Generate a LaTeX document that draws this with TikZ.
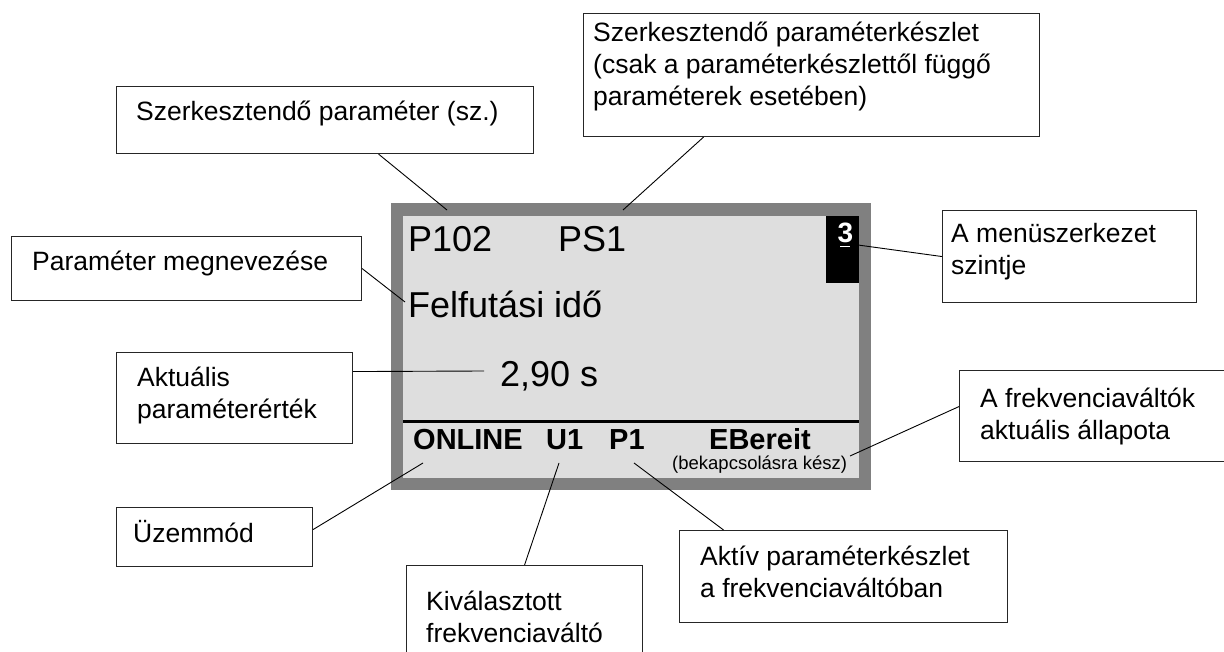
\documentclass[tikz,border=0pt]{standalone}
\usepackage{fontspec}
\setmainfont{Liberation Sans}
\usetikzlibrary{calc}
\definecolor{bezel}{RGB}{128,128,128}
\definecolor{screen}{RGB}{222,222,222}

\begin{document}
\begin{tikzpicture}[
  x=1pt, y=-1pt,
  callout/.style={draw=black!85,line width=1.1pt,fill=white,inner sep=0pt,anchor=north west},
  note/.style={anchor=base west,inner sep=0pt,align=left,font=\fontsize{26.5}{32}\selectfont},
  lcd/.style={anchor=base west,inner sep=0pt,font=\fontsize{36}{40}\selectfont},
  status/.style={anchor=base west,inner sep=0pt,font=\fontsize{29}{32}\selectfont\bfseries},
  leader/.style={line width=0.9pt}
]
\useasboundingbox (0,0) rectangle (1224,652);

% kijelző
\fill[bezel] (391,203) rectangle (871,490);
\fill[screen] (403,216) rectangle (859,478);
\fill[black] (826,216) rectangle (859,283);
\draw[line width=3pt] (403,421) -- (859,421);

\node[lcd] (par) at (408,252) {P102};
\node[lcd] (pset) at (558,252) {PS1};
\node[lcd] (name) at (408,318) {Felfutási idő};
\node[lcd] (value) at (500,387) {2,90 s};
\node[anchor=base,inner sep=0pt,text=white,font=\fontsize{28}{30}\selectfont\bfseries]
  (level) at (845.5,243) {3};
\draw[white,line width=0.8pt] (840,246.5) -- (850,246.5);

\node[status] (mode) at (413,449) {ONLINE};
\node[status] (unit) at (546,449) {U1};
\node[status] (pact) at (609,449) {P1};
\node[status] (state) at (709,449) {EBereit};
\node[anchor=base west,inner sep=0pt,font=\fontsize{18.5}{20}\selectfont]
  (statetxt) at (672,469) {(bekapcsolásra kész)};

% végpontok a kijelzőn
\coordinate (pA) at (447,210);
\coordinate (pB) at (623,210);
\coordinate (pC) at (405,302);
\coordinate (pD) at (484,371);
\coordinate (pE) at (858,245);
\coordinate (pF) at (850,456);
\coordinate (pG) at (423,463);
\coordinate (pH) at (559,463);
\coordinate (pI) at (634,463);

% feliratok (a szöveg alapvonala az utolsó sorhoz igazodik)
\node[callout,minimum width=417pt,minimum height=67pt] (boxA) at (116,86) {};
\node[note] (txtA) at (136,121) {Szerkesztendő paraméter (sz.)};

\node[callout,minimum width=456pt,minimum height=123pt] (boxB) at (583,13) {};
\node[note] (txtB) at (593,106) {Szerkesztendő paraméterkészlet\\(csak a paraméterkészlettől függő\\paraméterek esetében)};

\node[callout,minimum width=350pt,minimum height=64pt] (boxC) at (11,236) {};
\node[note] (txtC) at (32,271) {Paraméter megnevezése};

\node[callout,minimum width=236pt,minimum height=91pt] (boxD) at (116,352) {};
\node[note] (txtD) at (137,418) {Aktuális\\paraméterérték};

\node[callout,minimum width=254pt,minimum height=92pt] (boxE) at (942,210) {};
\node[note] (txtE) at (951,275) {A menüszerkezet\\szintje};

\node[callout,minimum width=271pt,minimum height=91pt] (boxF) at (959,370) {};
\node[note] (txtF) at (980,439) {A frekvenciaváltók\\aktuális állapota};

\node[callout,minimum width=196pt,minimum height=59pt] (boxG) at (116,507) {};
\node[note] (txtG) at (133,542) {Üzemmód};

\node[callout,minimum width=236pt,minimum height=100pt] (boxH) at (406,565) {};
\node[note] (txtH) at (426,642) {Kiválasztott\\frekvenciaváltó};

\node[callout,minimum width=328pt,minimum height=92pt] (boxI) at (679,530) {};
\node[note] (txtI) at (700,597) {Aktív paraméterkészlet\\a frekvenciaváltóban};

% vezetővonalak
\draw[leader] ([xshift=53.5pt]boxA.south) -- (pA);
\draw[leader] ([xshift=-108pt]boxB.south) -- (pB);
\draw[leader] (boxC.east) -- (pC);
\draw[leader] ([yshift=26.5pt]boxD.east) -- (pD);
\draw[leader] (boxE.west) -- (pE);
\draw[leader] ([yshift=9.5pt]boxF.west) -- (pF);
\draw[leader] ([yshift=7.5pt]boxG.east) -- (pG);
\draw[leader] (boxH.north) -- (pH);
\draw[leader] ([xshift=-120pt]boxI.north) -- (pI);
\end{tikzpicture}
\end{document}
